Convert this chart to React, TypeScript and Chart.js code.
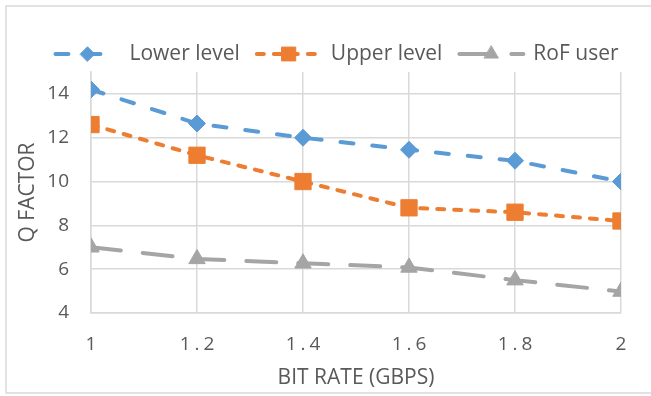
import React, { useEffect, useRef } from "react";
import { Chart, registerables } from "chart.js";
import { drawPoint } from "chart.js/helpers";

Chart.register(...registerables);

// Bit rate (Gbps) on the x axis, Q factor on the y axis
const bitRates = [1, 1.2, 1.4, 1.6, 1.8, 2];
const xTickLabels = ["1", "1.2", "1.4", "1.6", "1.8", "2"];
const yTickValues = [4, 6, 8, 10, 12, 14];

const lowerLevel = [14.2, 12.65, 12.0, 11.45, 10.95, 10.0];
const upperLevel = [12.6, 11.2, 10.0, 8.8, 8.6, 8.2];
const rofUser = [7.0, 6.47, 6.27, 6.08, 5.5, 4.98];

const seriesNames = ["Lower level", "Upper level", "RoF user"];

const TEXT = "#595959";
const GRID = "#D9D9D9";
const FONT = "'Open Sans', 'DejaVu Sans', sans-serif";

const toPoints = (ys: number[]) => bitRates.map((x, i) => ({ x, y: ys[i] }));

// Outer frame of the chart (its right side runs past the canvas edge)
const framePlugin = {
  id: "frame",
  beforeDraw(chart: any) {
    const { ctx } = chart;
    ctx.save();
    ctx.strokeStyle = GRID;
    ctx.lineWidth = 1.5;
    ctx.strokeRect(6, 6, 650, 387);
    ctx.restore();
  },
};

// X tick labels, spaced out like an office-style axis
const xLabelPlugin = {
  id: "xLabels",
  afterDraw(chart: any) {
    const { ctx } = chart;
    const xs = chart.scales.x;
    ctx.save();
    ctx.font = `19px ${FONT}`;
    ctx.fillStyle = TEXT;
    ctx.textAlign = "center";
    ctx.textBaseline = "middle";
    (ctx as any).letterSpacing = "4px";
    bitRates.forEach((v, i) => {
      ctx.fillText(xTickLabels[i], xs.getPixelForValue(v) + 2, 345);
    });
    ctx.restore();
  },
};

// Legend: dashed line sample with the marker in its middle, then the name
const legendPlugin = {
  id: "lineLegend",
  afterDraw(chart: any) {
    const { ctx } = chart;
    const lineLen = 68;
    const textGap = 8;
    const itemGap = 15;
    const y = 54;
    ctx.save();
    ctx.font = `21px ${FONT}`;
    const widths = chart.data.datasets.map(
      (ds: any) => lineLen + textGap + ctx.measureText(ds.label).width
    );
    const total =
      widths.reduce((a: number, b: number) => a + b, 0) +
      itemGap * (widths.length - 1);
    let x = 336 - total / 2;
    chart.data.datasets.forEach((ds: any, i: number) => {
      ctx.strokeStyle = ds.borderColor;
      ctx.lineWidth = ds.borderWidth;
      ctx.lineCap = "round";
      ctx.setLineDash(ds.borderDash);
      ctx.beginPath();
      ctx.moveTo(x + 2, y);
      ctx.lineTo(x + lineLen - 2, y);
      ctx.stroke();
      ctx.setLineDash([]);
      ctx.fillStyle = ds.pointBackgroundColor;
      ctx.strokeStyle = ds.pointBorderColor;
      ctx.lineWidth = 1;
      drawPoint(
        ctx,
        {
          pointStyle: ds.pointStyle,
          radius: ds.pointRadius * 0.85,
          rotation: 0,
          borderWidth: 1,
        } as any,
        x + lineLen / 2,
        y
      );
      ctx.fillStyle = TEXT;
      ctx.textAlign = "left";
      ctx.textBaseline = "middle";
      ctx.fillText(ds.label, x + lineLen + textGap, y);
      x += widths[i] + itemGap;
    });
    ctx.restore();
  },
};

export default function App() {
  const canvasRef = useRef<HTMLCanvasElement | null>(null);

  useEffect(() => {
    const canvas = canvasRef.current;
    if (!canvas) return;

    const series = [
      {
        label: seriesNames[0],
        data: toPoints(lowerLevel),
        color: "#5B9BD5",
        dash: [13, 19],
        style: "rectRot",
        radius: 8.5,
      },
      {
        label: seriesNames[1],
        data: toPoints(upperLevel),
        color: "#ED7D31",
        dash: [7, 10],
        style: "rect",
        radius: 11.5,
      },
      {
        label: seriesNames[2],
        data: toPoints(rofUser),
        color: "#A5A5A5",
        dash: [30, 22],
        style: "triangle",
        radius: 9.5,
      },
    ];

    const chart = new Chart(canvas, {
      type: "line",
      data: {
        datasets: series.map((s) => ({
          label: s.label,
          data: s.data,
          borderColor: s.color,
          backgroundColor: s.color,
          borderWidth: 4,
          borderDash: s.dash,
          borderCapStyle: "round",
          pointStyle: s.style,
          pointRadius: s.radius,
          pointBackgroundColor: s.color,
          pointBorderColor: s.color,
          pointBorderWidth: 1,
          tension: 0,
          fill: false,
        })) as any,
      },
      options: {
        responsive: false,
        animation: false,
        events: [],
        layout: { padding: { top: 72, right: 30, bottom: 0, left: 0 } },
        plugins: {
          legend: { display: false },
          tooltip: { enabled: false },
        },
        scales: {
          x: {
            type: "linear",
            min: 1,
            max: 2,
            afterBuildTicks: (s: any) => {
              s.ticks = bitRates.map((v) => ({ value: v }));
            },
            afterFit: (s: any) => {
              s.height = 83;
            },
            ticks: { display: false },
            grid: { color: GRID, lineWidth: 1.5, drawTicks: false },
            border: { display: true, color: GRID, width: 1.5 },
            title: {
              display: true,
              text: "BIT RATE (GBPS)",
              color: TEXT,
              font: { family: FONT, size: 21 },
              padding: { top: 0, bottom: 5 },
            },
          },
          y: {
            type: "linear",
            min: 4,
            max: 15,
            afterBuildTicks: (s: any) => {
              s.ticks = yTickValues.map((v) => ({ value: v }));
            },
            afterFit: (s: any) => {
              s.width = 91;
            },
            ticks: {
              color: TEXT,
              font: { family: FONT, size: 19 },
              padding: 22,
              callback: (v: any) => String(v),
            },
            grid: { color: GRID, lineWidth: 1.5, drawTicks: false },
            border: { display: true, color: GRID, width: 1.5 },
            title: {
              display: true,
              text: "Q FACTOR",
              color: TEXT,
              font: { family: FONT, size: 21 },
              padding: { top: 15, bottom: 0 },
            },
          },
        },
      },
      plugins: [framePlugin, xLabelPlugin, legendPlugin],
    });

    return () => chart.destroy();
  }, []);

  return (
    <div style={{ position: "fixed", left: 0, top: 0, width: 651, height: 396, background: "#fff" }}>
      <canvas ref={canvasRef} width={651} height={396} style={{ display: "block" }} />
    </div>
  );
}
